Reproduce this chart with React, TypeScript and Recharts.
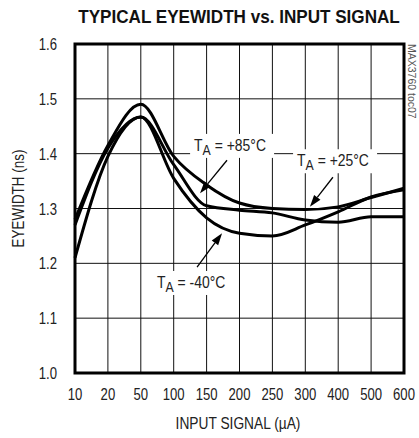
import React from "react";
import {
  LineChart,
  Line,
  XAxis,
  YAxis,
  CartesianGrid,
  ReferenceArea,
  ReferenceLine,
  ReferenceDot,
} from "recharts";

const FONT = "'Liberation Sans Narrow', 'Arial Narrow', 'Liberation Sans', Arial, sans-serif";
const NARROW = 0.82; // horizontal squeeze to imitate a condensed face

// input signal (uA), equally spaced on the plot
const xLabels = ["10", "20", "50", "100", "150", "200", "250", "300", "400", "500", "600"];
const yTicks = [1.0, 1.1, 1.2, 1.3, 1.4, 1.5, 1.6];

// eyewidth (ns)
const plus25 = [1.28, 1.415, 1.49, 1.395, 1.343, 1.31, 1.3, 1.298, 1.303, 1.32, 1.337];
const plus85 = [1.27, 1.41, 1.467, 1.38, 1.305, 1.297, 1.292, 1.279, 1.275, 1.285, 1.285];
const minus40 = [1.21, 1.395, 1.467, 1.355, 1.283, 1.255, 1.25, 1.27, 1.294, 1.321, 1.334];

const data = xLabels.map((_, i) => ({
  i,
  p25: plus25[i],
  p85: plus85[i],
  m40: minus40[i],
}));

// annotation text anchors and arrows, in (x index, eyewidth) units
const notes = [
  { temp: "+85°C", x: 3.62, y: 1.416, from: [4.62, 1.388], to: [3.8, 1.328] },
  { temp: "+25°C", x: 6.75, y: 1.388, from: [7.84, 1.357], to: [7.14, 1.303] },
  { temp: "-40°C", x: 2.49, y: 1.166, from: [3.71, 1.193], to: [4.47, 1.255] },
];

const Squeezed = ({ x, y, anchor = "start", size = 16, sx = NARROW, children, fill = "#222", weight }: any) => (
  <text
    transform={`translate(${x} ${y}) scale(${sx} 1)`}
    textAnchor={anchor}
    fontFamily={FONT}
    fontSize={size}
    fontWeight={weight}
    fill={fill}
  >
    {children}
  </text>
);

const XTick = (p: any) => (
  <Squeezed x={p.x} y={p.y + 27} anchor="middle">
    {xLabels[p.payload.value]}
  </Squeezed>
);

const YTick = (p: any) => (
  <Squeezed x={p.x - 18} y={p.y + 6} anchor="end">
    {Number(p.payload.value).toFixed(1)}
  </Squeezed>
);

const Arrow = (p: any) => {
  const { x1, y1, x2, y2 } = p;
  const a = Math.atan2(y2 - y1, x2 - x1);
  const len = 12;
  const w = 4;
  const bx = x2 - len * Math.cos(a);
  const by = y2 - len * Math.sin(a);
  const nx = -Math.sin(a) * w;
  const ny = Math.cos(a) * w;
  return (
    <g>
      <line x1={x1} y1={y1} x2={bx} y2={by} stroke="#000" strokeWidth={1.3} />
      <polygon points={`${x2},${y2} ${bx + nx},${by + ny} ${bx - nx},${by - ny}`} fill="#000" />
    </g>
  );
};

const NoteLabel = (temp: string) => (p: any) => {
  const { cx, cy } = p;
  return (
    <g>
      <rect x={cx - 4} y={cy - 11} width={84} height={24} fill="#fff" />
      <Squeezed x={cx} y={cy + 6} size={17}>
        T
        <tspan dy={4} fontSize={15}>A</tspan>
        <tspan dy={-4}>{` = ${temp}`}</tspan>
      </Squeezed>
    </g>
  );
};

export default function App() {
  return (
    <div style={{ position: "absolute", left: 0, top: 0, width: 419, height: 438, background: "#fff" }}>
      <LineChart
        width={419}
        height={438}
        data={data}
        margin={{ top: 44, right: 15, bottom: 5, left: 0 }}
      >
        <CartesianGrid stroke="#111" strokeWidth={1} />
        <XAxis
          type="number"
          dataKey="i"
          domain={[0, 10]}
          ticks={xLabels.map((_, i) => i)}
          tick={XTick}
          tickLine={false}
          axisLine={false}
          tickSize={0}
          tickMargin={0}
          height={60}
          interval={0}
          label={{
            content: () => (
              <Squeezed x={238} y={429} anchor="middle" sx={0.86}>
                INPUT SIGNAL (µA)
              </Squeezed>
            ),
          }}
        />
        <YAxis
          domain={[1.0, 1.6]}
          ticks={yTicks}
          tick={YTick}
          tickLine={false}
          axisLine={false}
          tickSize={0}
          tickMargin={0}
          width={75}
          interval={0}
          label={{
            content: () => (
              <g transform="translate(24 198.5) rotate(-90)">
                <Squeezed x={0} y={0} anchor="middle" sx={0.84}>
                  EYEWIDTH (ns)
                </Squeezed>
              </g>
            ),
          }}
        />
        <ReferenceArea x1={0} x2={10} y1={1.0} y2={1.6} fill="none" stroke="#000" strokeWidth={3} />
        {notes.map((n) => (
          <ReferenceDot key={n.temp} x={n.x} y={n.y} r={0} shape={NoteLabel(n.temp)} />
        ))}
        {notes.map((n) => (
          <ReferenceLine
            key={"a" + n.temp}
            segment={[
              { x: n.from[0], y: n.from[1] },
              { x: n.to[0], y: n.to[1] },
            ]}
            shape={Arrow}
          />
        ))}
        <Line type="monotone" dataKey="p25" stroke="#000" strokeWidth={3} dot={false} isAnimationActive={false} />
        <Line type="monotone" dataKey="p85" stroke="#000" strokeWidth={3} dot={false} isAnimationActive={false} />
        <Line type="monotone" dataKey="m40" stroke="#000" strokeWidth={3} dot={false} isAnimationActive={false} />
      </LineChart>
      <svg width={419} height={438} style={{ position: "absolute", left: 0, top: 0, pointerEvents: "none" }}>
        <Squeezed x={239} y={23} anchor="middle" size={19} sx={0.9} weight="bold" fill="#111">
          TYPICAL EYEWIDTH vs. INPUT SIGNAL
        </Squeezed>
        <g transform="translate(408 44) rotate(90)">
          <text x={0} y={0} fontFamily={FONT} fontSize={10} fill="#555" transform="scale(1.05 1)">
            MAX3760 toc07
          </text>
        </g>
      </svg>
    </div>
  );
}
